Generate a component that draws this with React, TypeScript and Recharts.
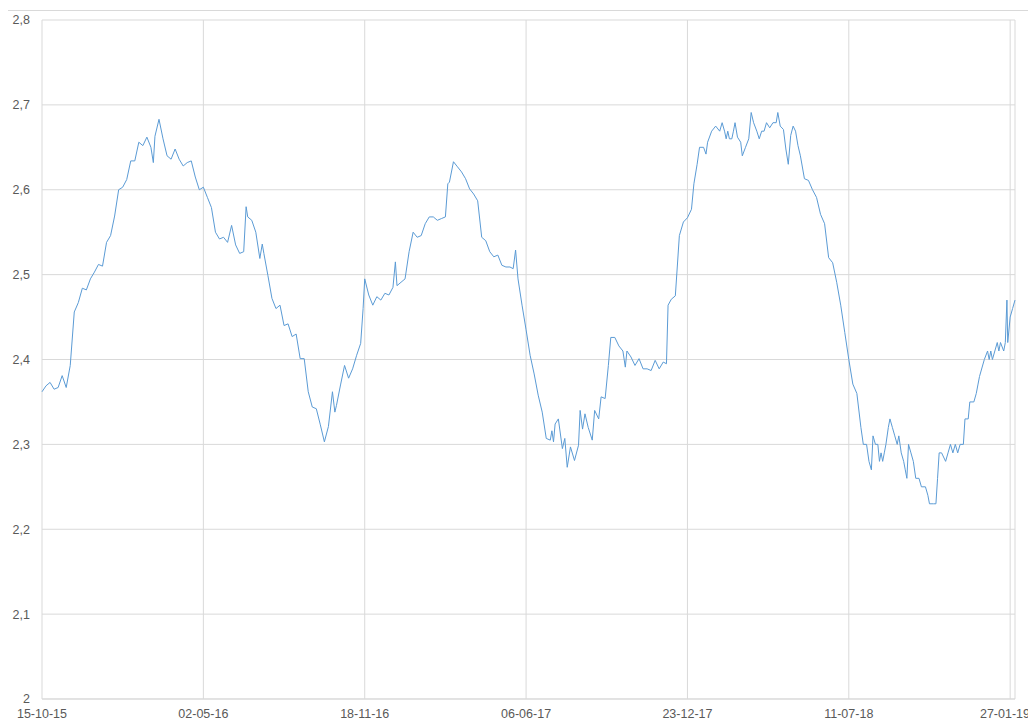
import React from "react"
import { LineChart, Line, XAxis, YAxis, CartesianGrid } from "recharts"

// day offsets counted from 15-10-15
const seg2015: [number, number][] = [
  [0, 2.362], [5, 2.369], [10, 2.373], [15, 2.365], [20, 2.367], [25, 2.381], [30, 2.367], [35, 2.393],
  [40, 2.456], [45, 2.467], [50, 2.484], [55, 2.482], [60, 2.495], [65, 2.503], [70, 2.512], [75, 2.51],
]

const seg2016: [number, number][] = [
  [80, 2.538], [85, 2.546], [90, 2.569], [95, 2.6], [100, 2.603], [105, 2.612], [110, 2.634], [115, 2.634],
  [120, 2.656], [125, 2.652], [130, 2.662], [135, 2.65], [138, 2.632], [140, 2.663], [145, 2.683], [150, 2.66],
  [155, 2.64], [160, 2.636], [165, 2.648], [170, 2.636], [175, 2.628], [180, 2.632], [185, 2.634], [190, 2.615],
  [195, 2.6], [200, 2.603], [205, 2.591], [210, 2.579], [215, 2.55], [220, 2.542], [225, 2.544], [230, 2.538],
  [235, 2.558], [240, 2.535], [245, 2.525], [250, 2.527], [253, 2.58], [255, 2.568], [260, 2.564], [265, 2.55],
  [270, 2.519], [273, 2.536], [275, 2.525], [280, 2.499], [285, 2.472], [290, 2.46], [295, 2.464], [300, 2.44],
  [305, 2.442], [310, 2.427], [315, 2.43], [320, 2.401], [325, 2.401], [330, 2.362], [335, 2.344], [340, 2.342],
  [345, 2.323], [350, 2.303], [355, 2.321], [360, 2.362], [363, 2.338], [365, 2.346], [370, 2.37], [375, 2.393],
  [380, 2.378], [385, 2.389], [390, 2.405], [395, 2.419], [398, 2.46], [400, 2.495], [405, 2.476], [410, 2.464],
  [415, 2.474], [420, 2.47], [425, 2.478], [430, 2.476], [435, 2.485], [438, 2.515], [440, 2.487],
]

const seg2017: [number, number][] = [
  [445, 2.491], [450, 2.495], [455, 2.527], [460, 2.55], [465, 2.544], [470, 2.546], [475, 2.56], [480, 2.568],
  [485, 2.568], [490, 2.564], [495, 2.566], [500, 2.568], [503, 2.607], [505, 2.609], [510, 2.633], [515, 2.627],
  [520, 2.621], [525, 2.613], [530, 2.601], [535, 2.595], [540, 2.587], [545, 2.544], [550, 2.54], [555, 2.527],
  [560, 2.521], [565, 2.523], [570, 2.511], [575, 2.509], [580, 2.509], [584, 2.507], [587, 2.529], [590, 2.495],
  [595, 2.464], [600, 2.435], [605, 2.405], [610, 2.383], [615, 2.358], [620, 2.338], [625, 2.307], [630, 2.305],
  [632, 2.316], [634, 2.303], [636, 2.324], [640, 2.33], [645, 2.295], [648, 2.307], [651, 2.273], [655, 2.297],
  [660, 2.281], [665, 2.299], [667, 2.34], [670, 2.318], [673, 2.336], [677, 2.32], [682, 2.305], [685, 2.34],
  [690, 2.33], [693, 2.356], [698, 2.354], [702, 2.393], [705, 2.426], [710, 2.426], [715, 2.416], [720, 2.41],
  [723, 2.391], [725, 2.41], [730, 2.403], [735, 2.393], [740, 2.401], [745, 2.389], [750, 2.389], [755, 2.387],
  [760, 2.399], [765, 2.389], [770, 2.397], [774, 2.395], [776, 2.464], [780, 2.471], [785, 2.475], [790, 2.546],
  [795, 2.562], [800, 2.567], [805, 2.577],
]

const seg2018: [number, number][] = [
  [808, 2.607], [812, 2.63], [815, 2.65], [820, 2.65], [823, 2.642], [825, 2.656], [830, 2.669], [835, 2.675],
  [840, 2.669], [843, 2.679], [846, 2.669], [848, 2.66], [850, 2.669], [852, 2.66], [855, 2.66], [857, 2.669],
  [859, 2.679], [862, 2.662], [866, 2.656], [868, 2.64], [872, 2.65], [876, 2.66], [879, 2.691], [882, 2.679],
  [886, 2.669], [889, 2.66], [892, 2.669], [895, 2.669], [898, 2.679], [902, 2.673], [906, 2.679], [910, 2.679],
  [912, 2.691], [915, 2.675], [919, 2.671], [922, 2.648], [925, 2.63], [928, 2.664], [931, 2.675], [934, 2.669],
  [937, 2.652], [940, 2.64], [945, 2.613], [950, 2.611], [955, 2.6], [960, 2.591], [965, 2.571], [970, 2.56],
  [975, 2.52], [980, 2.514], [985, 2.491], [990, 2.464], [995, 2.432], [1000, 2.4], [1005, 2.371], [1010, 2.36],
  [1015, 2.32], [1018, 2.3], [1022, 2.3], [1025, 2.28], [1028, 2.27], [1030, 2.31], [1033, 2.3], [1036, 2.3],
  [1038, 2.28], [1040, 2.29], [1042, 2.28], [1044, 2.29], [1046, 2.3], [1049, 2.32], [1051, 2.33], [1054, 2.32],
  [1057, 2.31], [1060, 2.3], [1062, 2.31], [1065, 2.29], [1068, 2.28], [1070, 2.27], [1072, 2.26], [1074, 2.3],
  [1077, 2.29], [1080, 2.28], [1083, 2.26], [1087, 2.26], [1090, 2.25], [1095, 2.25], [1098, 2.24], [1100, 2.23],
  [1105, 2.23], [1108, 2.23], [1110, 2.26], [1112, 2.29], [1115, 2.29], [1120, 2.28], [1123, 2.29], [1126, 2.3],
  [1129, 2.29], [1132, 2.3], [1135, 2.29], [1138, 2.3], [1142, 2.3], [1144, 2.33], [1148, 2.33], [1150, 2.35],
  [1155, 2.35], [1158, 2.36], [1160, 2.37], [1162, 2.38], [1165, 2.39], [1168, 2.4], [1172, 2.41],
]

const seg2019: [number, number][] = [
  [1174, 2.4], [1176, 2.41], [1178, 2.4], [1181, 2.41], [1184, 2.42], [1186, 2.41], [1188, 2.42], [1192, 2.41],
  [1194, 2.42], [1196, 2.47], [1197, 2.42], [1200, 2.45], [1203, 2.46], [1206, 2.47],
]

const tickDays = [0, 200, 400, 600, 800, 1000, 1200]
const tickLabels = ["15-10-15", "02-05-16", "18-11-16", "06-06-17", "23-12-17", "11-07-18", "27-01-19"]
const yTicks = [2, 2.1, 2.2, 2.3, 2.4, 2.5, 2.6, 2.7, 2.8]

const data = [...seg2015, ...seg2016, ...seg2017, ...seg2018, ...seg2019].map(([day, rate]) => ({ day, rate }))

const CHART_W = 1028
const font = "'Liberation Sans', Arial, sans-serif"
const tickStyle = { fontFamily: font, fontSize: 12.5, fill: "#595959" }

// the last date sits against the right edge, so it is right-aligned there instead of centred
function DateTick(props: any) {
  const { x, y, payload } = props
  const label = tickLabels[tickDays.indexOf(payload.value)]
  const last = payload.value === tickDays[tickDays.length - 1]
  return (
    <text
      x={last ? CHART_W - 6 : x}
      y={y}
      dy={11}
      textAnchor={last ? "end" : "middle"}
      fontFamily={font}
      fontSize={12.5}
      fill="#595959"
    >
      {label}
    </text>
  )
}

export default function App() {
  return (
    <div style={{ position: "relative", width: CHART_W, height: 717 }}>
      <style>{"html, body { overflow: hidden; }"}</style>
      <div style={{ position: "absolute", left: 0, right: 0, top: 2, borderTop: "1px solid #d9d9d9" }} />
      <LineChart width={CHART_W} height={717} data={data} margin={{ top: 12, right: 21, bottom: 0, left: 0 }}>
        <CartesianGrid stroke="#d9d9d9" />
        <XAxis
          type="number"
          dataKey="day"
          domain={[0, 1206]}
          ticks={tickDays}
          interval={0}
          height={26}
          tickLine={false}
          tickSize={0}
          tickMargin={8}
          axisLine={{ stroke: "#d9d9d9" }}
          tick={<DateTick />}
        />
        <YAxis
          type="number"
          domain={[2, 2.8]}
          ticks={yTicks}
          interval={0}
          width={34}
          tickLine={false}
          tickSize={0}
          tickMargin={12}
          axisLine={false}
          tick={tickStyle}
          tickFormatter={(v: number) => String(v).replace(".", ",")}
        />
        <Line
          type="linear"
          dataKey="rate"
          stroke="#5b9bd5"
          strokeWidth={1}
          dot={false}
          isAnimationActive={false}
        />
      </LineChart>
    </div>
  )
}
